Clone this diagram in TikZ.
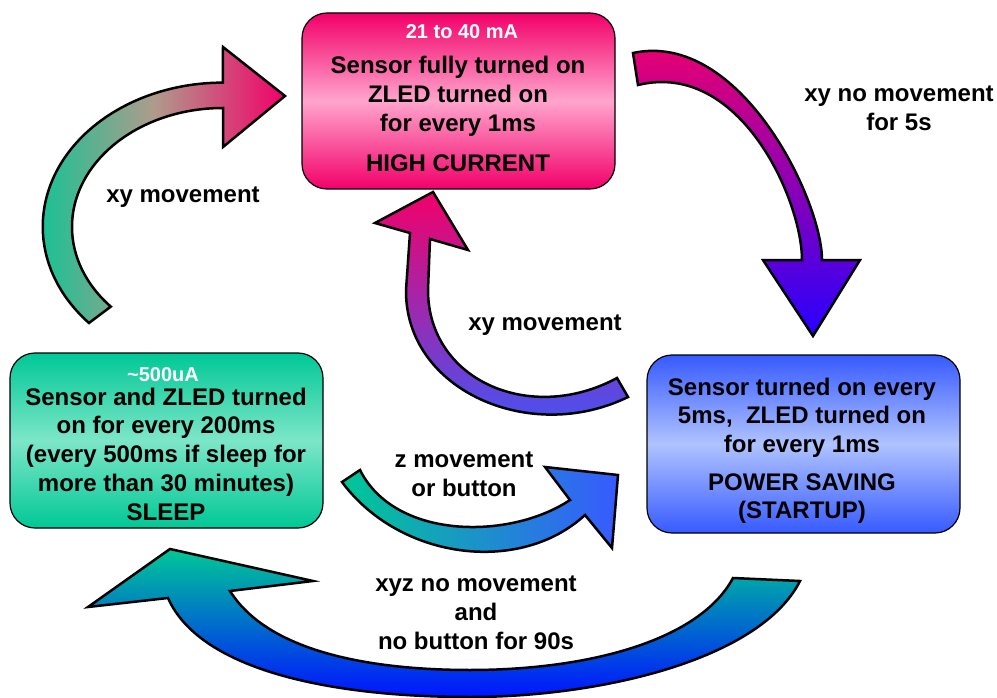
\documentclass[tikz,border=0pt]{standalone}
\usepackage{fontspec}
\setmainfont{Liberation Sans}
\usepackage{xcolor}
\usepackage{tikz}
\usetikzlibrary{calc}
\definecolor{pinkD}{RGB}{242,0,105}
\definecolor{pinkL}{RGB}{255,165,205}
\definecolor{tealD}{RGB}{0,200,150}
\definecolor{tealL}{RGB}{125,230,200}
\definecolor{blueD}{RGB}{55,90,255}
\definecolor{blueL}{RGB}{175,195,255}
\definecolor{violetD}{RGB}{40,0,255}
\definecolor{deepblue}{RGB}{0,20,255}
\definecolor{dusk}{RGB}{175,155,140}
\tikzset{
	statebox/.style={draw,line width=1.2pt,rounded corners=25pt,minimum width=313pt,inner sep=0pt},
	flow/.style={draw,line width=2.5pt,line join=miter},
	amps/.style={text=white,font=\bfseries\fontsize{20}{24}\selectfont},
	txt/.style={align=center,inner sep=0pt}
}

\begin{document}
\begin{tikzpicture}[x=1pt,y=-1pt,font=\bfseries\fontsize{24}{29}\selectfont]
	\useasboundingbox (0,0) rectangle (997,698);
	% states
	\node[statebox,minimum height=176pt,top color=pinkD,bottom color=pinkD,middle color=pinkL] (high) at (458.5,101) {};
	\node[statebox,minimum height=175pt,top color=tealD,bottom color=tealD,middle color=tealL] (sleep) at (166.5,440.5) {};
	\node[statebox,minimum height=178pt,top color=blueD,bottom color=blueD,middle color=blueL] (save) at (803.5,444) {};
	\node[amps] (highamp) at (462,32) {21 to 40 mA};
	\node[amps] (sleepamp) at (163,375) {\textasciitilde500uA};
	\node[txt] (hightxt) at (458,114) {Sensor fully turned on\\ZLED turned on\\for every 1ms\\[11pt]HIGH CURRENT};
	\node[txt,font=\bfseries\fontsize{24}{28.75}\selectfont] (sleeptxt) at (166,454) {Sensor and ZLED turned\\on for every 200ms\\(every 500ms if sleep for\\more than 30 minutes)\\SLEEP};
	\node[txt,font=\bfseries\fontsize{24}{28.5}\selectfont] (savetxt) at (802,451) {Sensor turned on every\\5ms,\ \ ZLED turned on\\for every 1ms\\[9.5pt]POWER SAVING\\(STARTUP)};
	% arrows
	\path[flow,left color=tealD,right color=pinkD,middle color=dusk] (89,323) arc[start angle=222,end angle=90,x radius=180pt,y radius=144pt]
		-- (223,47) -- (285,96) -- (223,147) -- (223,108)
		arc[start angle=90,end angle=222,x radius=151pt,y radius=119pt] -- cycle;
	\path[flow,top color=pinkD,bottom color=violetD] (633,53) .. controls (740,30) and (822,200) .. (822,260)
		-- (860,260) -- (813,336) -- (763,260) -- (802,260)
		.. controls (802,200) and (740,60) .. (638,85) -- cycle;
	\path[flow,top color=pinkD,bottom color=blueD] (628,397) .. controls (530,445) and (405,390) .. (406,290)
		-- (410,233) -- (375,223) -- (433,192) -- (468,250) -- (430,239) -- (428,290)
		.. controls (428,380) and (530,425) .. (617,378) -- cycle;
	\path[flow,left color=tealD,right color=blueD] (342,482) .. controls (400,560) and (520,575) .. (585,515)
		-- (612,548) -- (618,475) -- (545,467) -- (570,500)
		.. controls (510,540) and (395,540) .. (360,470) -- cycle;
	\path[flow,top color=tealD,bottom color=deepblue] (733,578) -- (800,581)
		.. controls (760,660) and (600,697) .. (470,697) .. controls (330,697) and (200,670) .. (168,598)
		-- (88,607) -- (170,549) -- (313,581) -- (230,591)
		.. controls (270,655) and (380,670) .. (470,670) .. controls (590,670) and (700,640) .. (733,578) -- cycle;
	% labels
	\node[txt] (nomove) at (899,108) {xy no movement\\for 5s};
	\node[txt] (move1) at (183,197) {xy movement};
	\node[txt] (move2) at (545,325) {xy movement};
	\node[txt] (zmove) at (464,474) {z movement\\or button};
	\node[txt] (idle) at (476,613) {xyz no movement\\and\\no button for 90s};
\end{tikzpicture}
\end{document}
